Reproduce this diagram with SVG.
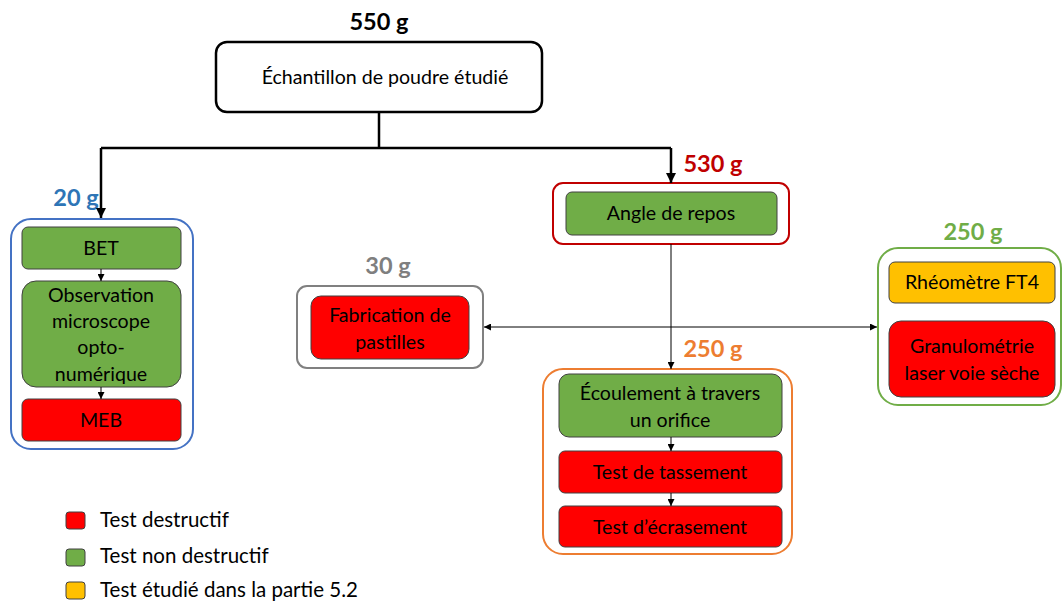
<svg xmlns="http://www.w3.org/2000/svg" width="1062" height="603" viewBox="0 0 1062 603">
<defs>
<style>
text{font-family:Lato,"Open Sans","Liberation Sans",sans-serif;fill:#000}
.t{font-size:19.6px;text-anchor:middle}
.lg{font-size:20.5px}
.m{font-size:23.5px;font-weight:bold;text-anchor:middle}
.in{stroke:#404040;stroke-width:1}
.red{fill:#FF0000}
.grn{fill:#70AD47}
.yel{fill:#FFC000}
.out{fill:#fff;stroke-width:2}
.con{fill:none;stroke:#000;stroke-width:2.5}
.sc{fill:none;stroke:#000;stroke-width:1}
</style>
<marker id="ah" viewBox="0 0 10 10" refX="10" refY="5" markerWidth="4" markerHeight="4" orient="auto-start-reverse"><path d="M0,0 L10,5 L0,10 z" fill="#000"/></marker>
<marker id="as" viewBox="0 0 10 10" refX="10" refY="5" markerWidth="7" markerHeight="7" orient="auto-start-reverse"><path d="M0,0 L10,5 L0,10 z" fill="#000"/></marker>
</defs>
<g id="sample">
<text class="m" x="379" y="30">550 g</text>
<rect x="216" y="42" width="326" height="70" rx="11" fill="#fff" stroke="#000" stroke-width="2.5"/>
<text class="t" x="385" y="84">Échantillon de poudre étudié</text>
</g>
<g id="group20">
<text class="m" x="76" y="206" style="fill:#2E75B6">20 g</text>
<rect class="out" x="11" y="219" width="182" height="230" rx="20" stroke="#4472C4"/>
<g id="bet"><rect class="in grn" x="22" y="227" width="159" height="42" rx="6"/><text class="t" x="101" y="255">BET</text></g>
<g id="obs"><rect class="in grn" x="22" y="281" width="159" height="106" rx="14"/>
<text class="t" x="101" y="302">Observation</text><text class="t" x="101" y="328">microscope</text><text class="t" x="101" y="354">opto-</text><text class="t" x="101" y="381">numérique</text></g>
<g id="meb"><rect class="in red" x="22" y="399" width="159" height="42" rx="6"/><text class="t" x="101" y="427">MEB</text></g>
</g>
<g id="group30">
<text class="m" x="388" y="274" style="fill:#7F7F7F">30 g</text>
<rect class="out" x="297" y="286" width="186" height="82" rx="10" stroke="#808080"/>
<g id="fab"><rect class="in red" x="311" y="296" width="158" height="63" rx="10"/>
<text class="t" x="390" y="322">Fabrication de</text><text class="t" x="390" y="349">pastilles</text></g>
</g>
<g id="group530">
<text class="m" x="713" y="172" style="fill:#C00000">530 g</text>
<rect class="out" x="553" y="183" width="236" height="61" rx="10" stroke="#C00000"/>
<g id="angle"><rect class="in grn" x="566" y="192" width="211" height="43" rx="6"/><text class="t" x="671" y="220">Angle de repos</text></g>
</g>
<g id="group250o">
<text class="m" x="713" y="357" style="fill:#ED7D31">250 g</text>
<rect class="out" x="543" y="369" width="249" height="185" rx="20" stroke="#ED7D31"/>
<g id="ecoul"><rect class="in grn" x="559" y="374" width="223" height="63" rx="10"/>
<text class="t" x="670" y="400">Écoulement à travers</text><text class="t" x="670" y="427">un orifice</text></g>
<g id="tass"><rect class="in red" x="559" y="451" width="223" height="42" rx="6"/><text class="t" x="670" y="479">Test de tassement</text></g>
<g id="ecras"><rect class="in red" x="559" y="506" width="223" height="41" rx="6"/><text class="t" x="670" y="534">Test d’écrasement</text></g>
</g>
<g id="group250g">
<text class="m" x="973" y="240" style="fill:#70AD47">250 g</text>
<rect class="out" x="878" y="248" width="183" height="157" rx="20" stroke="#70AD47"/>
<g id="rheo"><rect class="in yel" x="889" y="262" width="166" height="41" rx="6"/><text class="t" x="972" y="289">Rhéomètre FT4</text></g>
<g id="granu"><rect class="in red" x="889" y="321" width="166" height="76" rx="12"/>
<text class="t" x="972" y="353">Granulométrie</text><text class="t" x="972" y="380">laser voie sèche</text></g>
</g>
<g id="legend">
<rect class="in red" x="66" y="512" width="19" height="17" rx="3"/><text class="lg" x="100" y="527">Test destructif</text>
<rect class="in grn" x="66" y="549" width="19" height="17" rx="3"/><text class="lg" x="100" y="563">Test non destructif</text>
<rect class="in yel" x="66" y="582" width="19" height="17" rx="3"/><text class="lg" x="100" y="597">Test étudié dans la partie 5.2</text>
</g>
<g id="connectors">
<path class="con" d="M379,112 V148 M101,148 H671"/>
<path class="con" d="M101,148 V218" marker-end="url(#ah)"/>
<path class="con" d="M671,148 V183" marker-end="url(#ah)"/>
<path class="sc" d="M671,244 V369" marker-end="url(#as)"/>
<path class="sc" d="M484,327 H877" marker-start="url(#as)" marker-end="url(#as)"/>
<path class="sc" d="M101,269 V281" marker-end="url(#as)"/>
<path class="sc" d="M101,387 V399" marker-end="url(#as)"/>
<path class="sc" d="M671,437 V451" marker-end="url(#as)"/>
<path class="sc" d="M671,493 V506" marker-end="url(#as)"/>
</g>
</svg>
